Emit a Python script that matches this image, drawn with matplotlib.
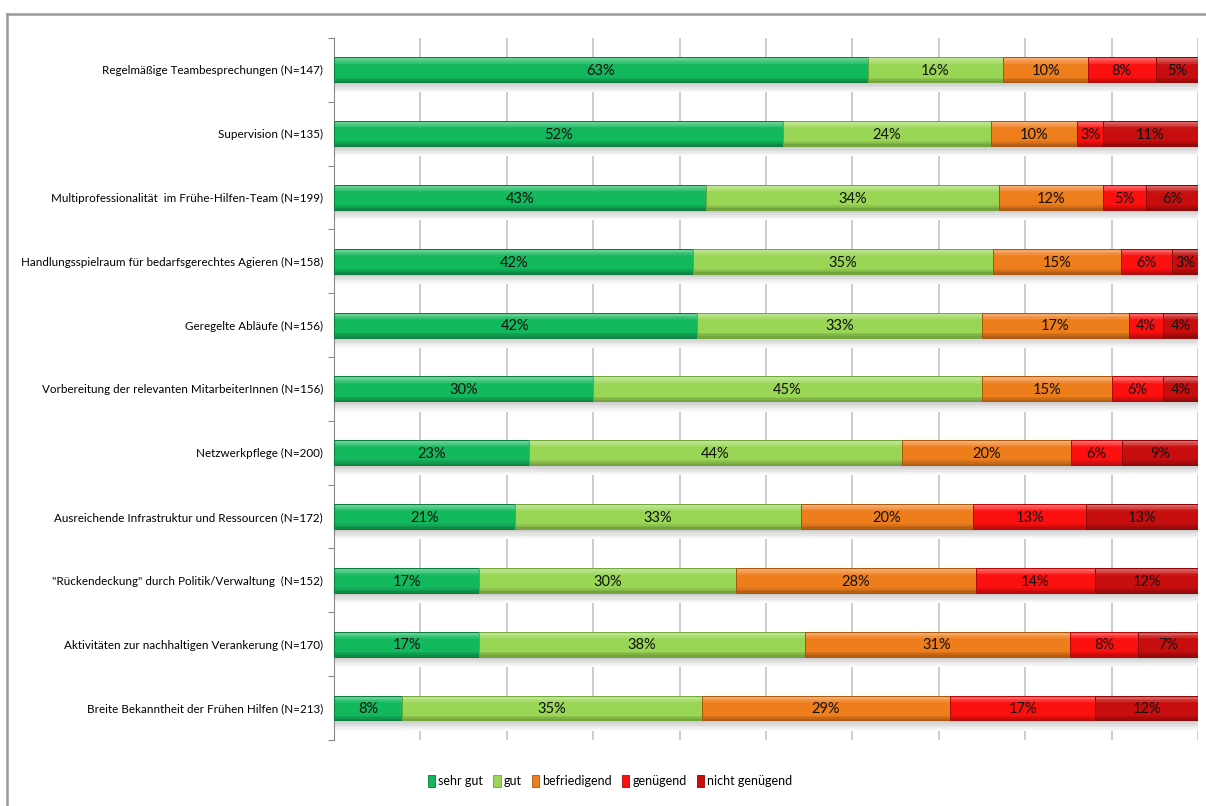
import matplotlib
matplotlib.use("Agg")
import matplotlib.pyplot as plt
import matplotlib.patches as mpatches
from matplotlib.colors import to_rgb
import numpy as np

plt.rcParams["font.family"] = ["Lato", "DejaVu Sans"]

categories = [
    "Regelmäßige Teambesprechungen (N=147)",
    "Supervision (N=135)",
    "Multiprofessionalität  im Frühe-Hilfen-Team (N=199)",
    "Handlungsspielraum für bedarfsgerechtes Agieren (N=158)",
    "Geregelte Abläufe (N=156)",
    "Vorbereitung der relevanten MitarbeiterInnen (N=156)",
    "Netzwerkpflege (N=200)",
    "Ausreichende Infrastruktur und Ressourcen (N=172)",
    "\"Rückendeckung\" durch Politik/Verwaltung  (N=152)",
    "Aktivitäten zur nachhaltigen Verankerung (N=170)",
    "Breite Bekanntheit der Frühen Hilfen (N=213)",
]

series_names = ["sehr gut", "gut", "befriedigend", "genügend", "nicht genügend"]

sehr_gut = [63, 52, 43, 42, 42, 30, 23, 21, 17, 17, 8]
gut = [16, 24, 34, 35, 33, 45, 44, 33, 30, 38, 35]
befriedigend = [10, 10, 12, 15, 17, 15, 20, 20, 28, 31, 29]
genuegend = [8, 3, 5, 6, 4, 6, 6, 13, 14, 8, 17]
nicht_genuegend = [5, 11, 6, 3, 4, 4, 9, 13, 12, 7, 12]

colors = ["#12b85c", "#9ad655", "#ee7d1c", "#fb0f0f", "#c70d0d"]
edge_colors = ["#0b7a3c", "#6fa83a", "#a9560f", "#b00808", "#8a0606"]

BAR_H = 0.39
N_STRIPS = 16


def mix(c, f):
    """f > 0 lightens towards white, f < 0 darkens towards black."""
    r = np.array(to_rgb(c))
    if f >= 0:
        return tuple(r + (1 - r) * f)
    return tuple(r * (1 + f))


def profile(t):
    # vertical shading across a bar, t = 0 at top edge, 1 at bottom edge
    if t < 0.08:
        return 0.35
    if t < 0.30:
        return 0.35 - (t - 0.08) / 0.22 * 0.35
    if t < 0.78:
        return 0.0
    return -(t - 0.78) / 0.22 * 0.28


values = np.array([sehr_gut, gut, befriedigend, genuegend, nicht_genuegend], dtype=float)
shares = values / values.sum(axis=0) * 100
y = np.arange(len(categories))

fig = plt.figure(figsize=(12.06, 8.06), dpi=100)
ax = fig.add_axes([0.277, 0.082, 0.7164, 0.871])

# drop shadow under each row
for k in range(6):
    g = 0.80 + k * 0.035
    ax.barh(y + BAR_H / 2 + 0.02 + k * 0.025, 100, height=0.03, left=0,
            color=(g, g, g), zorder=1.5)

left = np.zeros(len(categories))
strip_h = BAR_H / N_STRIPS
for i in range(len(series_names)):
    w = shares[i]
    for s in range(N_STRIPS):
        t = (s + 0.5) / N_STRIPS
        yc = y - BAR_H / 2 + (s + 0.5) * strip_h
        ax.barh(yc, w, height=strip_h * 1.02, left=left,
                color=mix(colors[i], profile(t)), linewidth=0, zorder=2)
    ax.barh(y, w, height=BAR_H, left=left, facecolor="none",
            edgecolor=edge_colors[i], linewidth=0.7, zorder=3)
    for j in range(len(categories)):
        ax.text(left[j] + w[j] / 2, y[j] + 0.02, f"{int(values[i][j])}%",
                ha="center", va="center", fontsize=10.5, color="#111111", zorder=4)
    left += w

ax.set_xlim(0, 100)
ax.set_ylim(len(categories) - 0.5, -0.5)
ax.set_xticks(np.arange(0, 101, 10))
ax.tick_params(axis="x", length=0, labelbottom=False)
ax.grid(axis="x", color="#c4c4c4", linewidth=1.2, zorder=0)
ax.set_axisbelow(True)

ax.set_yticks(y)
ax.set_yticklabels(categories, fontsize=8.4)
ax.set_yticks(np.arange(-0.5, len(categories), 1), minor=True)
ax.tick_params(axis="y", which="major", length=0, pad=8)
ax.tick_params(axis="y", which="minor", length=4, color="#888888", width=0.8)
for side in ("top", "right", "bottom"):
    ax.spines[side].set_visible(False)
ax.spines["left"].set_color("#888888")
ax.spines["left"].set_linewidth(0.8)

# outer chart frame (only top and left edges fall inside the canvas)
fig.add_artist(plt.Line2D([7 / 1206, 1.0], [1 - 14 / 806] * 2,
                          transform=fig.transFigure, color="#999999", linewidth=1.8))
fig.add_artist(plt.Line2D([7 / 1206] * 2, [0, 1 - 14 / 806],
                          transform=fig.transFigure, color="#999999", linewidth=1.8))

handles = [mpatches.Patch(facecolor=colors[i], edgecolor=edge_colors[i], linewidth=0.6,
                          label=series_names[i]) for i in range(len(series_names))]
fig.legend(handles=handles, loc="center", bbox_to_anchor=(610 / 1206, 1 - 781 / 806),
           ncol=5, frameon=False, fontsize=9, handlelength=0.6, handleheight=1.2,
           handletextpad=0.25, columnspacing=0.8)

fig.savefig("out.png", dpi=100)
